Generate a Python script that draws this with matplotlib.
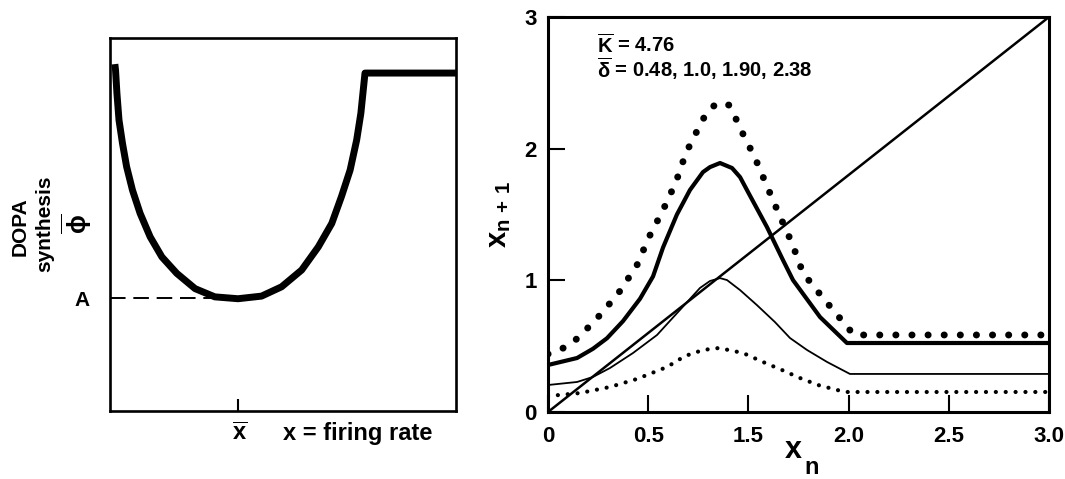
import matplotlib
matplotlib.use("Agg")
import matplotlib.pyplot as plt

plt.rcParams['font.family'] = ['Liberation Sans', 'DejaVu Sans']
plt.rcParams['font.weight'] = 'bold'
plt.rcParams['mathtext.fontset'] = 'custom'
plt.rcParams['mathtext.rm'] = 'Liberation Sans:bold'
plt.rcParams['mathtext.it'] = 'Liberation Sans:bold'
plt.rcParams['mathtext.bf'] = 'Liberation Sans:bold'
plt.rcParams['mathtext.default'] = 'rm'

# ---------------- data: left panel (schematic, arbitrary units 0-100) ----------------
phi_x = [1.4, 1.6, 2.0, 2.6, 3.6, 4.8, 6.5, 8.7, 11.6, 15.0, 19.3, 24.6, 30.3, 37.0,
         43.8, 49.6, 55.4, 60.2, 64.1, 66.9, 69.4, 71.3, 72.5, 73.2, 73.7, 100.0]
phi_y = [93.0, 91.4, 85.2, 78.0, 71.8, 65.5, 59.2, 53.0, 46.7, 41.3, 36.9, 32.8, 30.6, 30.1,
         30.8, 33.3, 37.8, 44.0, 50.3, 57.5, 64.6, 72.7, 79.8, 86.1, 90.6, 90.6]
A_level = 30.3
xbar_pos = 37.0

# ---------------- data: right panel ----------------
diag_x = [0.0, 3.0]
diag_y = [0.0, 3.0]

# delta = 2.38 (large dots)
d238_x = [0.0, 0.12, 0.192, 0.323, 0.431, 0.533, 0.605, 0.689, 0.766, 0.826, 0.910,
          0.952, 1.012, 1.084, 1.126, 1.162, 1.240, 1.311, 1.383, 1.461, 1.527,
          1.647, 1.772, 1.832, 3.0]
d238_y = [0.44, 0.50, 0.577, 0.752, 0.919, 1.116, 1.329, 1.534, 1.746, 1.967, 2.179,
          2.278, 2.346, 2.331, 2.225, 2.126, 1.929, 1.716, 1.503, 1.283, 1.055,
          0.866, 0.676, 0.585, 0.585]

# delta = 1.90 (thick solid)
d190_x = [0.0, 0.174, 0.269, 0.353, 0.449, 0.551, 0.629, 0.689, 0.772, 0.850, 0.928,
          0.970, 1.030, 1.102, 1.150, 1.198, 1.311, 1.407, 1.467, 1.629, 1.790, 3.0]
d190_y = [0.357, 0.410, 0.480, 0.560, 0.690, 0.860, 1.030, 1.250, 1.500, 1.686, 1.822,
          1.860, 1.891, 1.853, 1.784, 1.670, 1.405, 1.154, 1.002, 0.721, 0.524, 0.524]

# delta = 1.0 (thin solid)
d100_x = [0.0, 0.174, 0.269, 0.371, 0.509, 0.653, 0.790, 0.910, 0.970, 1.030, 1.072,
          1.150, 1.251, 1.359, 1.449, 1.551, 1.671, 1.808, 3.0]
d100_y = [0.205, 0.228, 0.266, 0.334, 0.448, 0.585, 0.775, 0.942, 0.995, 1.017, 1.002,
          0.926, 0.812, 0.683, 0.562, 0.471, 0.380, 0.289, 0.289]

# delta = 0.48 (small dots)
d048_x = [0.0, 0.192, 0.371, 0.533, 0.713, 0.820, 0.928, 1.024, 1.168, 1.287, 1.401,
          1.509, 1.617, 1.731, 1.790, 3.0]
d048_y = [0.121, 0.144, 0.190, 0.251, 0.342, 0.425, 0.471, 0.486, 0.448, 0.380, 0.319,
          0.258, 0.205, 0.167, 0.152, 0.152]

xtick_pos = [0.0, 0.6, 1.2, 1.8, 2.4, 3.0]
xtick_labels = ['0', '0.5', '1.5', '2.0', '2.5', '3.0']
ytick_pos = [0, 1, 2, 3]
ytick_labels = ['0', '1', '2', '3']

W, H = 1065, 479
fig = plt.figure(figsize=(W / 100, H / 100), dpi=100)


def fx(px):
    return px / W


def fy(py):
    return 1 - py / H


# ---------------- left panel ----------------
ax1 = fig.add_axes([fx(110), fy(411), 346 / W, 373 / H])
ax1.set_xlim(0, 100)
ax1.set_ylim(0, 100)
for s in ax1.spines.values():
    s.set_linewidth(1.9)
ax1.plot(phi_x, phi_y, color='black', lw=5, solid_capstyle='butt',
         solid_joinstyle='round')
ax1.plot([0, xbar_pos], [A_level, A_level], color='black', lw=1.4,
         dashes=(8, 4))
ax1.set_xticks([xbar_pos])
ax1.set_xticklabels([''])
ax1.set_yticks([])
ax1.tick_params(axis='x', direction='in', length=9, width=1.5)

fig.text(fx(20), fy(227), 'DOPA', rotation=90, ha='center', va='center',
         fontsize=15, fontweight='bold')
fig.text(fx(45), fy(224), 'synthesis', rotation=90, ha='center', va='center',
         fontsize=15, fontweight='bold')
fig.text(fx(77), fy(224), r'$\overline{\phi}$', rotation=90, ha='center',
         va='center', fontsize=18)
fig.text(fx(82), fy(300), 'A', ha='center', va='center', fontsize=15,
         fontweight='bold')
fig.text(fx(240), fy(440), r'$\overline{x}$', ha='center', va='baseline',
         fontsize=17)
fig.text(fx(283), fy(440), 'x = firing rate', ha='left', va='baseline',
         fontsize=17, fontweight='bold')

# ---------------- right panel ----------------
ax2 = fig.add_axes([fx(548), fy(412), 501 / W, 395 / H])
ax2.set_xlim(0, 3)
ax2.set_ylim(0, 3)
for s in ax2.spines.values():
    s.set_linewidth(2.2)

ax2.plot(diag_x, diag_y, color='black', lw=1.8)
ax2.plot(d238_x, d238_y, color='black', lw=5, dashes=(0.02, 2.3),
         dash_capstyle='round')
ax2.plot(d190_x, d190_y, color='black', lw=3.0, solid_joinstyle='round')
ax2.plot(d100_x, d100_y, color='black', lw=1.3, solid_joinstyle='round')
ax2.plot(d048_x, d048_y, color='black', lw=3.0, dashes=(0.02, 2.35),
         dash_capstyle='round')

ax2.set_xticks(xtick_pos)
ax2.set_xticklabels(xtick_labels)
ax2.set_yticks(ytick_pos)
ax2.set_yticklabels(ytick_labels)
ax2.tick_params(axis='both', direction='in', length=12, width=1.5,
                labelsize=16)
ax2.tick_params(axis='x', pad=10)
ax2.tick_params(axis='y', pad=8)
for lab in ax2.get_xticklabels() + ax2.get_yticklabels():
    lab.set_fontweight('bold')

# axis labels (x with subscript n)
fig.text(fx(793), fy(450), 'x', ha='center', va='center', fontsize=22,
         fontweight='bold')
fig.text(fx(812), fy(468), 'n', ha='center', va='center', fontsize=17,
         fontweight='bold')
ax2.set_ylabel(r'$x_{n\,+\,1}$', fontsize=21, labelpad=8)

fig.text(fx(597), fy(53), r'$\overline{\mathrm{K}}$ = 4.76', ha='left',
         va='baseline', fontsize=14.5, fontweight='bold')
fig.text(fx(597), fy(77), r'$\overline{\mathrm{δ}}$ = 0.48, 1.0, 1.90, 2.38',
         ha='left', va='baseline', fontsize=14.5, fontweight='bold')

fig.savefig('out.png', dpi=100)
